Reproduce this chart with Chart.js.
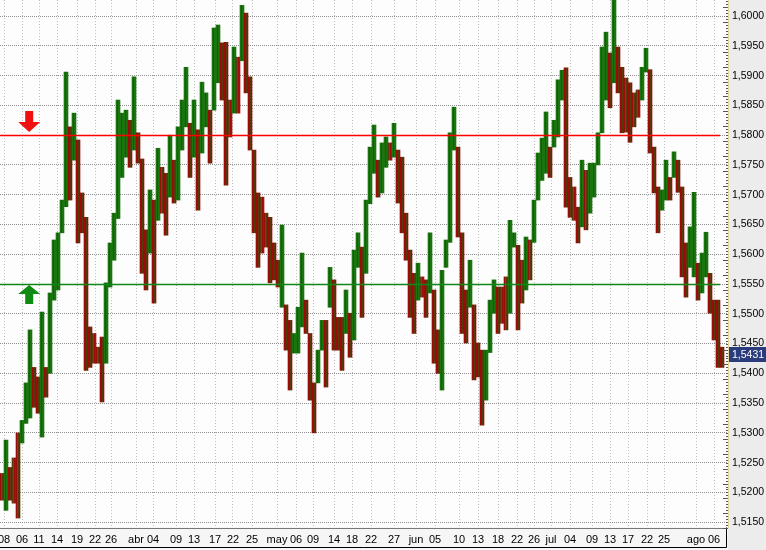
<!DOCTYPE html>
<html><head><meta charset="utf-8">
<script src="https://cdn.jsdelivr.net/npm/chart.js@4.4.0/dist/chart.umd.min.js"></script>
<style>html,body{margin:0;padding:0;background:#ececec;}canvas{display:block;}</style>
</head><body>
<canvas id="c" width="766" height="550"></canvas>
<script>
// ---- data (high / low per bar) ----
const highs = [
1.5232,1.5288,1.5242,1.5258,1.5300,1.5321,1.5384,1.5473,1.5410,1.5394,
1.5503,1.5410,1.5535,1.5624,1.5636,1.5691,1.5906,1.5814,1.5837,1.5792,
1.5703,1.5662,1.5478,1.5467,1.5444,1.5461,1.5552,1.5619,1.5669,1.5859,
1.5837,1.5842,1.5825,1.5898,1.5804,1.5760,1.5641,1.5708,1.5691,1.5778,
1.5746,1.5736,1.5800,1.5758,1.5814,1.5859,
1.5914,1.5820,1.5859,1.5809,1.5889,1.5871,1.5842,1.5980,1.5985,1.5955,
1.5956,1.5859,1.5948,1.5931,1.6018,1.6005,1.5898,1.5775,1.5703,1.5696,
1.5669,1.5662,1.5619,1.5590,1.5649,1.5515,1.5489,1.5467,1.5511,1.5602,
1.5523,1.5467,1.5384,1.5439,1.5489,1.5489,1.5578,1.5557,1.5494,1.5494,
1.5540,1.5501,1.5607,1.5636,1.5612,
1.5691,1.5780,1.5817,1.5758,1.5787,1.5797,1.5787,1.5820,1.5775,1.5763,
1.5669,1.5607,1.5568,1.5585,1.5562,1.5557,1.5636,1.5540,1.5473,1.5573,
1.5624,1.5804,1.5847,1.5780,1.5636,1.5540,1.5590,1.5515,1.5451,1.5439,
1.5439,1.5523,1.5557,1.5545,1.5545,1.5562,1.5657,1.5636,1.5615,1.5590,
1.5629,1.5624,1.5691,1.5770,1.5795,
1.5839,1.5780,1.5825,1.5893,1.5909,1.5913,1.5729,1.5713,1.5679,1.5758,
1.5741,1.5753,1.5753,1.5804,1.5948,1.5973,1.5938,1.6027,1.5948,1.5914,
1.5896,1.5888,1.5871,1.5876,1.5914,1.5946,1.5910,1.5780,1.5713,1.5708,
1.5758,1.5729,1.5772,1.5758,1.5713,1.5619,1.5646,1.5704,1.5585,1.5602,
1.5637,1.5568,1.5523,1.5523,1.5444
];
const lows = [
1.5187,1.5170,1.5187,1.5182,1.5157,1.5283,1.5316,1.5325,1.5343,1.5333,
1.5293,1.5360,1.5400,1.5523,1.5540,1.5636,1.5680,1.5691,1.5758,1.5619,
1.5636,1.5405,1.5410,1.5417,1.5417,1.5352,1.5417,1.5545,1.5590,1.5660,
1.5729,1.5763,1.5746,1.5775,1.5753,1.5568,1.5540,1.5602,1.5518,1.5657,
1.5669,1.5632,1.5696,1.5686,1.5691,1.5775,
1.5814,1.5729,1.5763,1.5674,1.5770,1.5814,1.5753,1.5842,1.5888,1.5859,
1.5716,1.5797,1.5837,1.5837,1.5925,1.5871,1.5775,1.5636,1.5578,1.5602,
1.5612,1.5552,1.5557,1.5545,1.5511,1.5439,1.5372,1.5434,1.5434,1.5478,
1.5467,1.5355,1.5300,1.5384,1.5439,1.5377,1.5511,1.5439,1.5439,1.5405,
1.5467,1.5427,1.5456,1.5578,1.5494,
1.5568,1.5685,1.5736,1.5696,1.5703,1.5746,1.5758,1.5763,1.5686,1.5636,
1.5590,1.5494,1.5467,1.5523,1.5528,1.5494,1.5535,1.5417,1.5400,1.5372,
1.5578,1.5620,1.5775,1.5629,1.5467,1.5451,1.5511,1.5389,1.5394,1.5313,
1.5355,1.5435,1.5501,1.5467,1.5484,1.5473,1.5501,1.5612,1.5473,1.5518,
1.5540,1.5557,1.5620,1.5691,1.5724,
1.5736,1.5729,1.5780,1.5797,1.5859,1.5679,1.5662,1.5657,1.5619,1.5646,
1.5641,1.5669,1.5696,1.5750,1.5804,1.5859,1.5846,1.5888,1.5871,1.5804,
1.5805,1.5788,1.5814,1.5830,1.5859,1.5906,1.5770,1.5703,1.5636,1.5674,
1.5691,1.5691,1.5729,1.5704,1.5562,1.5528,1.5578,1.5562,1.5523,1.5535,
1.5562,1.5501,1.5456,1.5410,1.5410
];
// date tick labels and the bar index where each one sits
const tickLabels = ['08','06','11','14','19','22','26','abr','04','09','13','17','22','25',
  'may','06','09','14','18','22','27','jun','05','10','13','18','22','26',
  'jul','04','09','13','17','22','25','ago','06'];
const tickIndex = [1.0,5.5,9.75,14.25,19.25,23.75,27.75,34,38.25,44,48.5,53.75,58.25,63,
  69.25,74,78.25,83.5,88,92.75,98.5,104,108.75,114.75,119.5,124.5,129.25,133.5,
  137.75,142.5,148,152.5,157,161.75,166,174,178.5];
const lastValue = 1.5431;
const resistance = 1.5800;
const support = 1.5550;

// ---- styles ----
const canvas = document.getElementById('c');
const G = '#1c7410', R = '#9a0c0c', B = '#5a3a0a';
function stripes(cols) {
  const off = document.createElement('canvas');
  off.width = cols.length; off.height = 1;
  const g = off.getContext('2d');
  cols.forEach((col, i) => { g.fillStyle = col; g.fillRect(i, 0, 1, 1); });
  return canvas.getContext('2d').createPattern(off, 'repeat');
}
const UP = stripes([G, B, G, G]);
const DOWN = stripes([R, R, B, R]);
const MIX = stripes([R, G, B, R, B, G, R, B]);
const mids = highs.map((h, i) => (h + lows[i]) / 2);
const barColors = mids.map((m, i) => {
  const d = i ? m - mids[i - 1] : 0;
  return d > 0.0012 ? UP : (d < -0.0012 ? DOWN : MIX);
});
const fmt = v => v.toFixed(4).replace('.', ',');
const isMajor = v => Math.abs(Math.round(v / 0.005) * 0.005 - v) < 1e-7;
const noPad = s => { s.paddingLeft = 0; s.paddingRight = 0; s.paddingTop = 0; s.paddingBottom = 0; };

const overlay = {
  id: 'overlay',
  beforeDraw(chart) {
    const {ctx, chartArea: a} = chart;
    ctx.save();
    ctx.fillStyle = '#ececec';
    ctx.fillRect(0, 0, chart.width, chart.height);
    ctx.fillStyle = '#fdfdfd';
    ctx.fillRect(a.left, a.top, a.right - a.left, a.bottom - a.top);
    ctx.fillStyle = '#f6f6f6';
    ctx.fillRect(a.left, a.bottom, a.right - a.left, chart.height - a.bottom);
    ctx.restore();
  },
  afterDatasetsDraw(chart) {
    const {ctx, chartArea: a, scales: {x, y}} = chart;
    ctx.save();
    const xEnd = a.right - 8;
    [[resistance, '#ff0000'], [support, '#10861a']].forEach(([v, c]) => {
      const py = Math.round(y.getPixelForValue(v)) + 0.5;
      ctx.strokeStyle = c; ctx.lineWidth = 1.4;
      ctx.beginPath(); ctx.moveTo(a.left, py); ctx.lineTo(xEnd, py); ctx.stroke();
    });
    const ax = x.getPixelForValue(7.3);
    // red down arrow above resistance
    let ly = Math.round(y.getPixelForValue(resistance));
    ctx.fillStyle = '#f01010';
    ctx.beginPath();
    ctx.moveTo(ax - 4, ly - 24); ctx.lineTo(ax + 4, ly - 24); ctx.lineTo(ax + 4, ly - 13);
    ctx.lineTo(ax + 11, ly - 13); ctx.lineTo(ax, ly - 3); ctx.lineTo(ax - 11, ly - 13);
    ctx.lineTo(ax - 4, ly - 13); ctx.closePath(); ctx.fill();
    // green up arrow below support
    ly = Math.round(y.getPixelForValue(support));
    ctx.fillStyle = '#0f8a12';
    ctx.beginPath();
    ctx.moveTo(ax, ly + 1); ctx.lineTo(ax + 11, ly + 10); ctx.lineTo(ax + 4, ly + 10);
    ctx.lineTo(ax + 4, ly + 20); ctx.lineTo(ax - 4, ly + 20); ctx.lineTo(ax - 4, ly + 10);
    ctx.lineTo(ax - 11, ly + 10); ctx.closePath(); ctx.fill();
    ctx.restore();
  },
  afterDraw(chart) {
    const {ctx, chartArea: a, scales: {y}} = chart;
    ctx.save();
    // bottom label strip frame
    ctx.strokeStyle = '#000'; ctx.lineWidth = 1;
    ctx.beginPath();
    ctx.moveTo(a.left, chart.height - 2.5); ctx.lineTo(a.right - 1.5, chart.height - 2.5);
    ctx.lineTo(a.right - 1.5, a.bottom + 0.5);
    ctx.stroke();
    ctx.strokeStyle = '#777';
    ctx.beginPath(); ctx.moveTo(a.left, a.bottom + 1.5); ctx.lineTo(a.right, a.bottom + 1.5); ctx.stroke();
    // small ruler ticks left of axis line
    ctx.strokeStyle = '#555';
    for (let k = 0; k <= 180; k++) {
      const v = 1.5140 + k * 0.0005;
      if (v > y.max) break;
      const py = Math.round(y.getPixelForValue(v)) + 0.5;
      const len = (k % 5 === 0) ? 5 : 2;
      ctx.beginPath(); ctx.moveTo(a.right - len, py); ctx.lineTo(a.right, py); ctx.stroke();
    }
    // last value box
    const py = y.getPixelForValue(lastValue);
    ctx.fillStyle = '#2a3c7c';
    ctx.fillRect(a.right + 1, Math.round(py) - 8, chart.width - a.right - 1, 15);
    ctx.fillStyle = '#fff';
    ctx.font = '10.5px "Liberation Sans", Arial, sans-serif';
    ctx.textBaseline = 'middle';
    ctx.fillText(fmt(lastValue), a.right + 4, Math.round(py));
    ctx.restore();
  }
};

new Chart(canvas, {
  type: 'bar',
  data: {
    datasets: [{
      data: highs.map((h, i) => ({x: i + 0.5, y: [lows[i], h]})),
      backgroundColor: barColors,
      borderWidth: 0,
      barThickness: 4
    }]
  },
  options: {
    responsive: false,
    devicePixelRatio: 1,
    animation: false,
    layout: {padding: 0, autoPadding: false},
    plugins: {legend: {display: false}, tooltip: {enabled: false}},
    scales: {
      x: {
        type: 'linear', min: 0, max: 182, offset: false,
        afterBuildTicks: s => { s.ticks = tickIndex.map(v => ({value: v})); },
        afterFit: s => { s.height = 23; noPad(s); },
        grid: {color: '#bdbdbd', offset: false, drawTicks: false, lineWidth: 1},
        border: {display: false, dash: [1, 2]},
        ticks: {
          autoSkip: false, maxRotation: 0, padding: 6, color: '#000',
          font: {family: '"Liberation Sans", Arial, sans-serif', size: 11},
          callback: (v, i) => tickLabels[i]
        }
      },
      y: {
        position: 'right', min: 1.5142, max: 1.6027, beginAtZero: false,
        afterBuildTicks: s => {
          const t = [];
          for (let k = 0; k < 36; k++) t.push({value: (15150 + 25 * k) / 10000});
          s.ticks = t;
        },
        afterFit: s => { s.width = 38; noPad(s); },
        grid: {
          drawTicks: false, lineWidth: 1,
          color: c => (c.tick && isMajor(c.tick.value)) ? '#8e8e8e' : '#a9a9a9'
        },
        border: {
          display: true, color: '#e2d39a', width: 1,
          dash: c => (c.tick ? (isMajor(c.tick.value) ? [1, 1] : [3, 12]) : [])
        },
        ticks: {
          padding: 4, color: '#000',
          font: {family: '"Liberation Sans", Arial, sans-serif', size: 10.5},
          callback: v => isMajor(v) ? fmt(v) : ''
        }
      }
    }
  },
  plugins: [overlay]
});
</script>
</body></html>
